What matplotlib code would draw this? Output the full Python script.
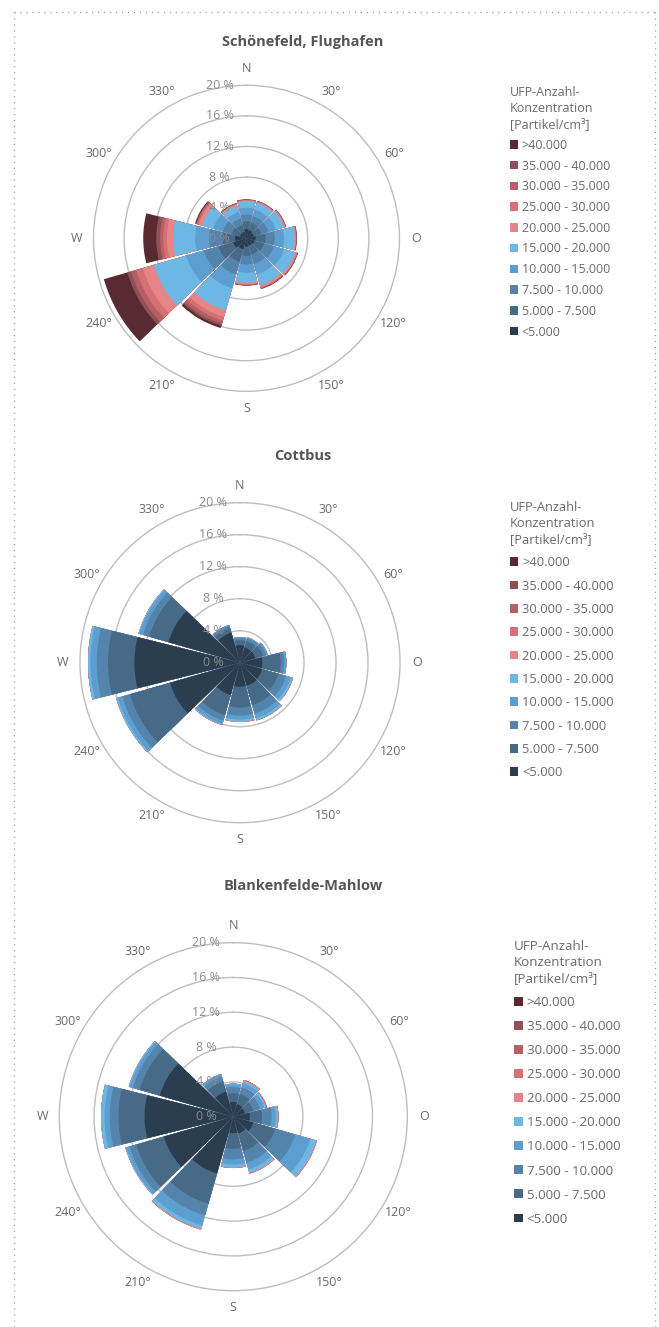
import numpy as np
import matplotlib
matplotlib.use("Agg")
import matplotlib.pyplot as plt
from matplotlib.patches import Patch
from matplotlib.lines import Line2D

plt.rcParams['font.family'] = ['Open Sans', 'DejaVu Sans']

# Wind direction sectors (degrees, clockwise from north) and their labels
directions = [0, 30, 60, 90, 120, 150, 180, 210, 240, 270, 300, 330]
direction_labels = ['N', '30°', '60°', 'O', '120°', '150°', 'S', '210°', '240°', 'W', '300°', '330°']

# Concentration classes, lowest first (stacking order from the centre outwards)
classes = ['<5.000', '5.000 - 7.500', '7.500 - 10.000', '10.000 - 15.000', '15.000 - 20.000',
           '20.000 - 25.000', '25.000 - 30.000', '30.000 - 35.000', '35.000 - 40.000', '>40.000']
class_colors = ['#2b3e50', '#476b87', '#5483ab', '#5c9ecf', '#6db7e5',
                '#e58585', '#d57074', '#b65f64', '#915057', '#572b31']

ring_values = [0, 4, 8, 12, 16, 20]

# Frequency share (%) per class, one row per class, one column per direction
schoenefeld = [
    [1.2, 1.1, 1.0, 1.2, 1.1, 1.0, 1.1, 1.5, 1.8, 1.5, 0.9, 0.9],   # <5.000
    [1.0, 1.0, 1.0, 1.3, 1.3, 1.2, 1.2, 1.7, 2.0, 1.7, 1.1, 0.9],   # 5.000 - 7.500
    [0.9, 0.9, 1.0, 1.2, 1.3, 1.3, 1.1, 1.7, 2.0, 1.7, 1.2, 0.9],   # 7.500 - 10.000
    [0.9, 0.9, 1.0, 1.2, 1.4, 1.4, 1.1, 1.9, 2.4, 1.8, 1.3, 0.9],   # 10.000 - 15.000
    [0.8, 0.9, 1.1, 1.4, 1.5, 1.5, 1.3, 3.0, 4.4, 2.9, 1.5, 0.8],   # 15.000 - 20.000
    [0.15, 0.15, 0.15, 0.15, 0.2, 0.25, 0.2, 0.9, 1.5, 0.8, 0.5, 0.2],      # 20.000 - 25.000
    [0.05, 0.06, 0.06, 0.05, 0.08, 0.1, 0.08, 0.5, 0.9, 0.5, 0.2, 0.07],    # 25.000 - 30.000
    [0.04, 0.04, 0.04, 0.04, 0.05, 0.06, 0.05, 0.4, 0.7, 0.4, 0.1, 0.05],   # 30.000 - 35.000
    [0.03, 0.03, 0.03, 0.03, 0.04, 0.04, 0.03, 0.3, 0.5, 0.5, 0.1, 0.04],   # 35.000 - 40.000
    [0.03, 0.02, 0.02, 0.03, 0.03, 0.05, 0.04, 0.3, 3.2, 1.7, 0.1, 0.04],   # >40.000
]

cottbus = [
    [2.2, 2.0, 2.0, 2.8, 2.9, 3.0, 3.0, 4.2, 9.1, 13.2, 9.3, 3.9],
    [0.6, 0.8, 1.0, 2.3, 2.1, 2.5, 2.6, 2.6, 5.2, 3.3, 2.5, 0.6],
    [0.3, 0.35, 0.4, 0.4, 1.0, 1.1, 1.0, 0.7, 1.0, 1.4, 0.8, 0.3],
    [0.1, 0.15, 0.2, 0.3, 0.6, 0.6, 0.5, 0.45, 0.6, 0.8, 0.5, 0.1],
    [0.0, 0.0, 0.0, 0.0, 0.25, 0.25, 0.25, 0.1, 0.2, 0.3, 0.1, 0.0],
    [0.0, 0.0, 0.0, 0.0, 0.05, 0.05, 0.05, 0.05, 0.0, 0.0, 0.0, 0.0],
    [0.0] * 12,
    [0.0] * 12,
    [0.0] * 12,
    [0.0] * 12,
]

blankenfelde = [
    [1.7, 1.5, 1.4, 1.9, 2.4, 2.0, 1.9, 6.8, 8.3, 10.2, 8.8, 3.0],
    [1.0, 1.2, 1.0, 1.4, 2.6, 2.1, 1.8, 3.6, 3.3, 3.0, 2.4, 1.2],
    [0.7, 0.8, 0.8, 1.1, 2.4, 1.4, 1.2, 1.4, 0.8, 1.0, 0.8, 0.6],
    [0.3, 0.5, 0.5, 0.5, 1.8, 0.8, 0.6, 1.2, 0.4, 0.6, 0.4, 0.3],
    [0.1, 0.25, 0.2, 0.2, 0.7, 0.4, 0.3, 0.4, 0.1, 0.4, 0.1, 0.0],
    [0.0, 0.1, 0.05, 0.1, 0.1, 0.1, 0.1, 0.1, 0.0, 0.0, 0.0, 0.0],
    [0.0, 0.05, 0.05, 0.0, 0.0, 0.0, 0.0, 0.0, 0.0, 0.0, 0.0, 0.0],
    [0.0] * 12,
    [0.0] * 12,
    [0.0] * 12,
]

W, H = 659, 1327
fig = plt.figure(figsize=(W / 100, H / 100), dpi=100)
fig.patch.set_facecolor('white')

TEXT = '#6a6a6a'
RMAX = 20.3


def draw_rose(shares, cx, cy, R, title, title_y, legend_xy, legend_fs, legend_sp):
    rad = R * RMAX / 20
    ax = fig.add_axes([(cx - rad) / W, 1 - (cy + rad) / H, 2 * rad / W, 2 * rad / H],
                      projection='polar')
    ax.set_theta_zero_location('N')
    ax.set_theta_direction(-1)
    ax.set_ylim(0, RMAX)
    ax.set_yticks(ring_values[1:])
    ax.set_yticklabels([])
    ax.set_xticks([])
    ax.yaxis.grid(True, color='#bdbdbd', lw=1.0)
    ax.spines['polar'].set_visible(False)
    ax.set_axisbelow(True)
    ax.patch.set_alpha(0)

    # stacked shares: draw cumulative totals from the centre, outermost class first,
    # so that each inner class covers the one above it without seams
    theta = np.deg2rad(directions)
    cumulative = np.cumsum(np.asarray(shares, dtype=float), axis=0)
    for k in range(len(classes) - 1, -1, -1):
        ax.bar(theta, cumulative[k], width=np.deg2rad(28), bottom=0,
               color=class_colors[k], linewidth=0, zorder=2 + (len(classes) - k) * 0.01)

    px_per_pct = R / 20
    dx = -27 / px_per_pct
    for rv in ring_values:
        ax.text(np.arctan2(dx, rv), np.hypot(dx, rv), f'{rv} %', ha='center', va='center',
                fontsize=9, color='#8c8c8c', zorder=6)

    r_lab = 20 + 17 / px_per_pct
    for d, lab in zip(directions, direction_labels):
        ax.text(np.deg2rad(d), r_lab, lab, ha='center', va='center', fontsize=9,
                color=TEXT)

    fig.text(303 / W, 1 - title_y / H, title, ha='center', va='center', fontsize=10.5,
             fontweight='bold', color='#555555')

    handles = [Patch(facecolor=c, edgecolor='none') for c in class_colors[::-1]]
    leg = fig.legend(handles, classes[::-1], loc='upper left',
                     bbox_to_anchor=(legend_xy[0] / W, 1 - legend_xy[1] / H),
                     frameon=False, title='UFP-Anzahl-\nKonzentration\n[Partikel/cm³]',
                     alignment='left', fontsize=legend_fs, title_fontsize=legend_fs,
                     labelcolor=TEXT, handlelength=0.65, handleheight=0.65,
                     handletextpad=0.3, labelspacing=legend_sp, borderpad=0,
                     borderaxespad=0)
    leg.get_title().set_color(TEXT)
    leg.get_title().set_linespacing(1.3)


draw_rose(schoenefeld, 246.5, 238.3, 153, 'Schönefeld, Flughafen', 42, (510, 86), 9, 0.62)
draw_rose(cottbus, 240, 662.7, 160, 'Cottbus', 456, (510, 501), 9.3, 0.8)
draw_rose(blankenfelde, 233.3, 1116.7, 174, 'Blankenfelde-Mahlow', 886, (514, 940), 9.6, 0.83)

# dotted frame on left, top and right
frame_style = dict(transform=fig.transFigure, color='#9a9a9a', lw=1.0,
                   linestyle=(0, (0.8, 3.5)))
for xs, ys in [([14, 14], [12, H]), ([14, 655], [12, 12]), ([655, 655], [12, H])]:
    fig.add_artist(Line2D([x / W for x in xs], [1 - y / H for y in ys], **frame_style))

fig.savefig('out.png', dpi=100, facecolor='white')
